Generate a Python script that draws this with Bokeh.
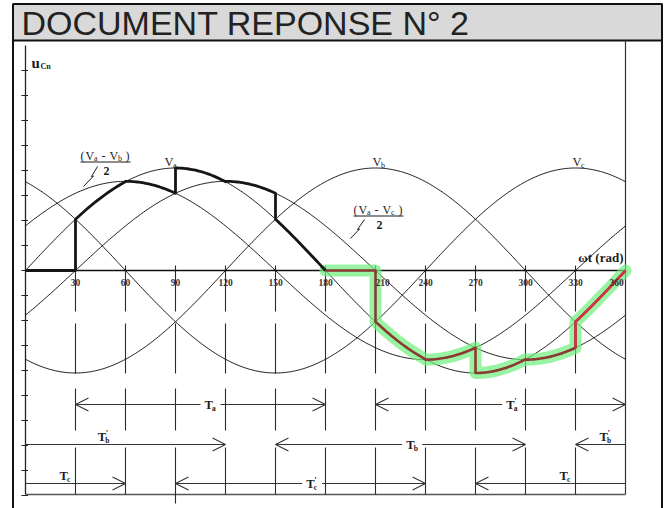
import numpy as np
from bokeh.plotting import figure
from bokeh.models import Range1d, Arrow, OpenHead
from bokeh.core.properties import value
from bokeh.embed import file_html
from bokeh.resources import INLINE

# ---------------- chart values ----------------
# phase voltages Va, Vb, Vc (peak in grid units, phase lag in degrees)
phase_letters = ["a", "b", "c"]
phase_shift_deg = [0, 120, 240]
phase_peak = 4.1

# half line-to-line voltages (Va - Vb)/2 and (Va - Vc)/2
half_line_keys = ["ab", "ac"]
half_line_shift_deg = [-30, 30]
half_line_ratio = 0.87

angle_ticks = [30, 60, 90, 120, 150, 180, 210, 240, 270, 300, 330, 360]
angle_tick_labels = ["30", "60", "90", "120", "150", "180",
                     "210", "240", "270", "300", "330", "360"]
level_ticks = [-9, -8, -7, -6, -5, -4, -3, -2, -1, 0, 1, 2, 3, 4, 5, 6, 7, 8]

# u_Cn built piece by piece: start angle, end angle, curve followed
ucn_from = [0, 30, 60, 90, 120, 150, 180, 210, 240, 270, 300, 330]
ucn_to = [30, 60, 90, 120, 150, 180, 210, 240, 270, 300, 330, 360]
ucn_curve = ["0", "a", "ab", "a", "ac", "a", "0", "a", "ab", "a", "ac", "a"]

# conduction intervals
interval_row = [0, 0, 1, 1, 1, 2, 2, 2]
interval_from = [30, 210, 0, 150, 330, 0, 90, 270]
interval_to = [180, 360, 120, 300, 360, 60, 240, 360]
interval_sub = ["a", "a", "b", "b", "b", "c", "c", "c"]
interval_prime = [False, True, True, False, True, False, True, False]
interval_head_from = [True, True, False, True, True, False, True, True]
interval_head_to = [True, True, True, True, False, True, True, False]

# ---------------- layout helpers (pixels -> data) ----------------
W, H = 670, 508
X0_PX, Y0_PX = 25.0, 270.0
PX_PER_DEG = 5.0 / 3.0
PX_PER_UNIT = 25.0


def dx(px):
    return (px - X0_PX) / PX_PER_DEG


def dy(py):
    return (Y0_PX - py) / PX_PER_UNIT


SERIF = value("Liberation Serif")
SANS = value("Liberation Sans")
INK = "#1c1c1c"

p = figure(width=W, height=H, x_range=Range1d(dx(0), dx(W)),
           y_range=Range1d(dy(H), dy(0)), output_backend="svg",
           toolbar_location=None, min_border=0,
           x_axis_location=None, y_axis_location=None)
p.xgrid.visible = False
p.ygrid.visible = False
p.outline_line_color = None
p.background_fill_color = "white"
p.border_fill_color = "white"


def phase(letter, t):
    k = phase_letters.index(letter)
    return phase_peak * np.sin(np.radians(t - phase_shift_deg[k]))


def half_line(key, t):
    k = half_line_keys.index(key)
    return half_line_ratio * phase_peak * np.sin(np.radians(t - half_line_shift_deg[k]))


def curve_value(key, t):
    t = np.asarray(t, dtype=float)
    if key == "0":
        return np.zeros_like(t)
    if key in phase_letters:
        return phase(key, t)
    return half_line(key, t)


def build_path(pieces):
    xs, ys = [], []
    for i in pieces:
        a, b = ucn_from[i], ucn_to[i]
        t = np.arange(a, b + 0.5, 1.0)
        xs.extend(t.tolist())
        ys.extend(curve_value(ucn_curve[i], t).tolist())
    return xs, ys


# ---------------- page frame and title ----------------
p.quad(left=[dx(12.5)], right=[dx(661.5)], top=[dy(3.5)], bottom=[dy(40)],
       fill_color="#d9d9d9", line_color="#111111", line_width=2)
p.segment(x0=[dx(12.5), dx(661.5)], y0=[dy(40), dy(40)],
          x1=[dx(12.5), dx(661.5)], y1=[dy(H), dy(H)],
          line_color="#111111", line_width=2)
p.text(x=[dx(21)], y=[dy(22.5)], text=["DOCUMENT REPONSE N° 2"],
       text_font=SANS, text_font_size="34px", text_color="#222222",
       text_align="left", text_baseline="middle")

# ---------------- axes ----------------
# right edge of the drawing area (360°)
p.segment(x0=[360], y0=[dy(40)], x1=[360], y1=[dy(494)],
          line_color="#333333", line_width=1.2)
# vertical axis with its ticks
p.segment(x0=[0], y0=[dy(45)], x1=[0], y1=[dy(494)],
          line_color="#222222", line_width=1.3)
p.segment(x0=[dx(21)] * len(level_ticks), y0=level_ticks,
          x1=[dx(27.5)] * len(level_ticks), y1=level_ticks,
          line_color="#222222", line_width=1.2)
# bottom line
p.segment(x0=[0], y0=[dy(494)], x1=[360], y1=[dy(494)],
          line_color="#555555", line_width=1.3)

# dashed drop lines below each angle tick
dash_spans_px = [(265, 311), (323, 373), (388, 430), (447, 494)]
gx0, gy0, gx1, gy1 = [], [], [], []
for ang in angle_ticks[:-1]:
    for top, bot in dash_spans_px:
        if ang == 90 and bot == 494:
            bot = 503
        gx0.append(ang); gx1.append(ang)
        gy0.append(dy(top)); gy1.append(dy(bot))
p.segment(x0=gx0, y0=gy0, x1=gx1, y1=gy1, line_color="#2a2a2a", line_width=1.1)

# time axis (zero line)
p.segment(x0=[0], y0=[0], x1=[360], y1=[0], line_color="#111111", line_width=1.3)

# ---------------- voltage curves ----------------
theta = np.arange(0, 360.5, 1.0)
for letter in phase_letters:
    p.line(theta, phase(letter, theta), line_color=INK, line_width=1)
for key in half_line_keys:
    p.line(theta, half_line(key, theta), line_color=INK, line_width=1)

# ---------------- u_Cn waveform ----------------
pos_x, pos_y = build_path(range(0, 6))
neg_x, neg_y = build_path(range(6, 12))
p.line(neg_x, neg_y, line_color="#6cf07a", line_width=12, line_alpha=0.7,
       line_join="round", line_cap="round")
p.line(neg_x, neg_y, line_color="#8a3a30", line_width=2.6, line_join="round")
tail_t = np.arange(330, 360.5, 1.0)
p.line([330] + tail_t.tolist(), [half_line("ac", 330)] + phase("a", tail_t).tolist(),
       line_color="#d8304a", line_width=2.4)
p.line(pos_x, pos_y, line_color="#151515", line_width=2.8, line_join="round")

# ---------------- texts ----------------
x_shift_px = {210: 7, 360: -9}
p.text(x=[a + x_shift_px.get(a, 0) / PX_PER_DEG for a in angle_ticks],
       y=[dy(282)] * len(angle_ticks), text=angle_tick_labels,
       text_font=SERIF, text_font_style="bold", text_font_size="9.5px",
       text_color="#333333", text_align="center", text_baseline="middle")
p.text(x=[dx(623)], y=[dy(257)], text=["ωt (rad)"], text_font=SERIF,
       text_font_style="bold", text_font_size="13px", text_color=INK,
       text_align="right", text_baseline="middle")


def piece(px, py, txt, size, bold=False, align="left"):
    p.text(x=[dx(px)], y=[dy(py)], text=[txt], text_font=SERIF,
           text_font_style="bold" if bold else "normal",
           text_font_size=f"{size}px", text_color=INK,
           text_align=align, text_baseline="middle")


# axis name u_Cn
piece(31, 62, "u", 15, bold=True)
piece(40, 65.5, "Cn", 8, bold=True)

# phase names above their peaks
for vx, sub in [(164, "a"), (372, "b"), (572, "c")]:
    piece(vx, 161.5, "V", 12.5)
    piece(vx + 8.5, 165, sub, 8)


def half_line_label(x0, yc, second, lead):
    piece(x0, yc, "(", 12)
    piece(x0 + 5, yc, "V", 12)
    piece(x0 + 13.5, yc + 3, "a", 8)
    piece(x0 + 21, yc, "-", 12)
    piece(x0 + 29, yc, "V", 12)
    piece(x0 + 37.5, yc + 3, second, 8)
    piece(x0 + 45, yc, ")", 12)
    p.segment(x0=[dx(x0)], y0=[dy(yc + 6.5)], x1=[dx(x0 + 50)], y1=[dy(yc + 6.5)],
              line_color=INK, line_width=1.1)
    piece(x0 + 23, yc + 15.5, "2", 12, bold=True)
    p.line([dx(u) for u, _ in lead], [dy(v) for _, v in lead],
           line_color=INK, line_width=1)


half_line_label(80, 155, "b", [(97, 166), (91, 176), (93, 175.5), (83, 186)])
half_line_label(353, 209, "c", [(364, 219), (357, 229), (359, 228.5), (350, 238)])

# ---------------- conduction intervals ----------------
row_y_px = [404, 444, 483]
interval_label_at = [111, 292, 47, 232, 348, 24, 172, 324]
head = dict(size=13, line_color="#333333", line_width=1.1)


def interval_label(xc_deg, yc_px, sub, prime):
    xl = xc_deg * PX_PER_DEG + X0_PX - 6
    piece(xl, yc_px, "T", 12.5, bold=True)
    piece(xl + 7.5, yc_px + 3.5, sub, 7.5, bold=True)
    if prime:
        piece(xl + 8, yc_px - 4, "'", 9, bold=True)


for i in range(len(interval_row)):
    y = dy(row_y_px[interval_row[i]])
    a, b = interval_from[i], interval_to[i]
    lab = interval_label_at[i]
    if interval_head_from[i] and interval_head_to[i]:
        gap = 10 / PX_PER_DEG
        p.add_layout(Arrow(x_start=lab - gap, y_start=y, x_end=a, y_end=y,
                           end=OpenHead(**head), line_color="#333333", line_width=1.1))
        p.add_layout(Arrow(x_start=lab + gap, y_start=y, x_end=b, y_end=y,
                           end=OpenHead(**head), line_color="#333333", line_width=1.1))
        interval_label(lab, row_y_px[interval_row[i]], interval_sub[i], interval_prime[i])
    else:
        p.add_layout(Arrow(x_start=a, y_start=y, x_end=b, y_end=y,
                           start=OpenHead(**head) if interval_head_from[i] else None,
                           end=OpenHead(**head) if interval_head_to[i] else None,
                           line_color="#333333", line_width=1.1))
        interval_label(lab, row_y_px[interval_row[i]] - 8, interval_sub[i], interval_prime[i])

open("out.html", "w").write(file_html(p, INLINE))
